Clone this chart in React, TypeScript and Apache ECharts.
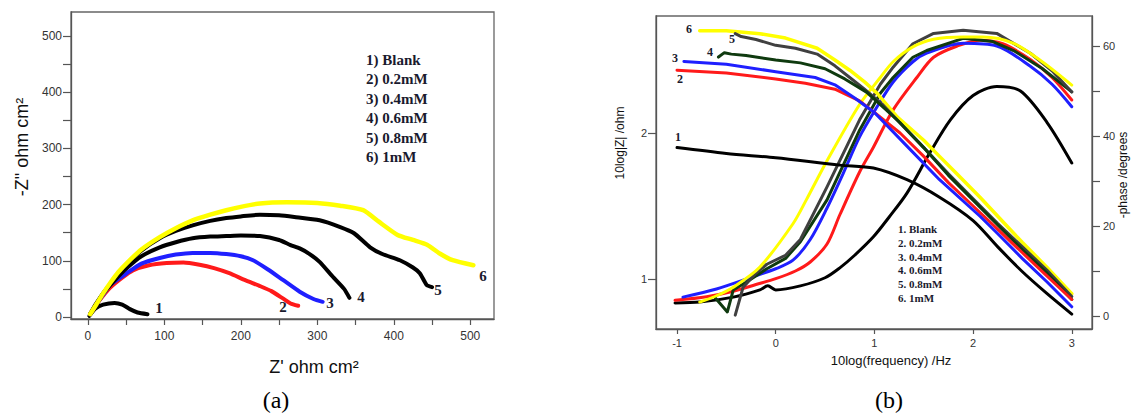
import React, { useEffect, useRef } from "react";
import * as echarts from "echarts";

// ---------- (a) Nyquist data: [Z', -Z''] ----------
const nyqBlank = [[2, 2], [10, 15], [20, 22], [35, 25], [45, 22], [55, 14], [65, 8], [78, 5]];
const nyq02 = [[3, 5], [10, 20], [20, 38], [29, 52], [45, 70], [59, 83], [80, 92], [103, 96], [125, 97], [146, 93], [165, 87], [185, 78], [205, 66], [225, 55], [240, 46], [255, 33], [265, 24], [275, 20]];
const nyq04 = [[3, 5], [10, 20], [20, 40], [30, 58], [51, 78], [70, 95], [94, 105], [115, 111], [137, 114], [160, 114], [181, 112], [200, 108], [216, 101], [235, 85], [255, 66], [277, 45], [295, 32], [307, 27]];
const nyq06 = [[3, 5], [10, 22], [20, 42], [35, 65], [51, 87], [70, 108], [94, 124], [115, 133], [137, 140], [160, 143], [181, 144], [200, 145], [225, 144], [250, 137], [265, 128], [277, 122], [290, 112], [303, 98], [320, 72], [335, 50], [342, 34]];
const nyq08 = [[3, 5], [10, 20], [20, 42], [29, 58], [40, 78], [51, 94], [70, 118], [94, 140], [115, 153], [137, 163], [160, 171], [181, 176], [200, 179], [225, 182], [250, 181], [270, 178], [303, 172], [330, 160], [348, 149], [369, 124], [385, 112], [408, 101], [425, 88], [434, 78], [443, 57], [450, 53]];
const nyq1 = [[3, 5], [10, 20], [20, 42], [29, 60], [40, 80], [51, 96], [70, 120], [94, 142], [115, 158], [137, 172], [160, 182], [181, 190], [200, 196], [225, 202], [260, 204], [300, 203], [330, 198], [360, 190], [380, 170], [405, 146], [425, 137], [444, 128], [460, 113], [477, 101], [504, 92]];

const nyqXTicks = [0, 50, 100, 150, 200, 250, 300, 350, 400, 450, 500];
const nyqXLabels = [0, 100, 200, 300, 400, 500];
const nyqYTicks = [0, 50, 100, 150, 200, 250, 300, 350, 400, 450, 500];
const nyqYLabels = [0, 100, 200, 300, 400, 500];
const nyqLegend = ["1) Blank", "2) 0.2mM", "3) 0.4mM", "4) 0.6mM", "5) 0.8mM", "6) 1mM"];

// ---------- (b) Bode data: [log f, log|Z|] and [log f, -phase] ----------
const zBlank = [[-1, 1.9], [-0.5, 1.86], [0, 1.83], [0.65, 1.78], [0.99, 1.76], [1.33, 1.68], [1.66, 1.56], [2.0, 1.4], [2.25, 1.22], [2.5, 1.05], [2.75, 0.9], [3, 0.76]];
const z02 = [[-1, 2.43], [-0.5, 2.41], [0, 2.37], [0.3, 2.34], [0.6, 2.3], [0.85, 2.22], [1.0, 2.14], [1.26, 2.0], [1.5, 1.84], [1.75, 1.66], [2.0, 1.5], [2.25, 1.34], [2.5, 1.18], [2.75, 1.02], [3.0, 0.86]];
const z04 = [[-0.93, 2.49], [-0.5, 2.47], [0, 2.42], [0.4, 2.38], [0.6, 2.33], [0.8, 2.24], [1.0, 2.14], [1.33, 1.91], [1.66, 1.68], [2.07, 1.43], [2.25, 1.31], [2.5, 1.14], [2.75, 0.98], [3.0, 0.81]];
const z06 = [[-0.58, 2.52], [-0.52, 2.55], [-0.45, 2.54], [-0.3, 2.53], [0, 2.5], [0.25, 2.48], [0.5, 2.44], [0.7, 2.37], [0.92, 2.28], [1.1, 2.17], [1.26, 2.07], [1.5, 1.9], [1.75, 1.71], [2.0, 1.54], [2.25, 1.37], [2.5, 1.2], [2.75, 1.04], [3.0, 0.86]];
const z08 = [[-0.41, 2.68], [-0.35, 2.66], [-0.2, 2.64], [0, 2.6], [0.2, 2.58], [0.42, 2.54], [0.6, 2.46], [0.75, 2.38], [0.9, 2.3], [1.09, 2.19], [1.3, 2.04], [1.5, 1.9], [1.75, 1.72], [2.0, 1.55], [2.25, 1.38], [2.5, 1.22], [2.75, 1.06], [3.0, 0.88]];
const z1 = [[-0.77, 2.7], [-0.5, 2.7], [-0.16, 2.68], [0.1, 2.65], [0.42, 2.58], [0.6, 2.5], [0.75, 2.43], [0.9, 2.35], [1.03, 2.27], [1.23, 2.11], [1.5, 1.95], [1.66, 1.84], [1.85, 1.71], [2.07, 1.56], [2.25, 1.43], [2.5, 1.25], [2.75, 1.08], [3.0, 0.9]];

const phBlank = [[-1.02, 2.9], [-0.77, 3.1], [-0.43, 4.2], [-0.16, 5.8], [-0.08, 6.7], [0, 5.8], [0.25, 6.7], [0.5, 8.5], [0.65, 10.7], [0.8, 13.5], [0.99, 17.6], [1.15, 22], [1.33, 27.3], [1.56, 36.2], [1.77, 43.6], [2.0, 49], [2.24, 51], [2.48, 50], [2.75, 43], [3.0, 34]];
const ph02 = [[-1.02, 3.5], [-0.7, 4.3], [-0.43, 5.5], [-0.2, 7], [0, 8.3], [0.2, 10], [0.35, 12], [0.52, 16], [0.65, 22.5], [0.85, 32], [0.99, 37.5], [1.19, 45.8], [1.43, 53], [1.6, 57.5], [1.84, 60], [2.07, 61.3], [2.3, 60.5], [2.58, 57], [2.8, 53], [3.0, 48]];
const ph04 = [[-0.94, 4.2], [-0.6, 6], [-0.26, 8.5], [0, 10.5], [0.175, 12.4], [0.35, 17], [0.52, 24], [0.68, 31.5], [0.85, 39.8], [1.0, 45.5], [1.19, 52], [1.39, 56.5], [1.53, 58.4], [1.9, 60.6], [2.24, 60], [2.58, 55.5], [2.8, 51.5], [3.0, 46.5]];
const ph06 = [[-0.62, 4.2], [-0.49, 0.9], [-0.43, 5.8], [-0.3, 7.5], [-0.09, 10.5], [0.1, 12.8], [0.25, 16.5], [0.52, 25.8], [0.85, 41.3], [1.06, 49.5], [1.19, 53], [1.39, 57.5], [1.53, 59], [1.9, 61.7], [2.2, 61], [2.41, 59], [2.7, 55], [3.0, 49.8]];
const ph08 = [[-0.41, 0.2], [-0.33, 6.4], [-0.2, 9.5], [-0.09, 11.5], [0.1, 13.5], [0.25, 17], [0.52, 28.7], [0.85, 43.6], [1.06, 51.5], [1.19, 55.3], [1.39, 60.5], [1.6, 62.8], [1.9, 63.5], [2.24, 62.8], [2.58, 58.4], [2.8, 54.5], [3.0, 49.8]];
const ph1 = [[-0.77, 3.1], [-0.6, 4.5], [-0.43, 6.4], [-0.16, 10.9], [0.175, 20.5], [0.31, 25.8], [0.52, 34.5], [0.85, 47], [1.06, 53], [1.19, 56.5], [1.39, 59.8], [1.6, 61.5], [1.9, 62], [2.1, 62], [2.41, 60.6], [2.7, 56.5], [3.0, 51.3]];

const bodeXTicks = [-1, 0, 1, 2, 3];
const bodeZTicks = [1, 2];
const bodePhTicks = [0, 10, 20, 30, 40, 50, 60];
const bodePhLabels = [0, 20, 40, 60];
const bodeLegend = ["1. Blank", "2. 0.2mM", "3. 0.4mM", "4. 0.6mM", "5. 0.8mM", "6. 1mM"];

const C = {
  black: "#000000",
  red: "#ff1a1a",
  blue: "#1f1fff",
  green: "#0f3a0f",
  gray: "#404040",
  yellow: "#ffff00",
};

const SANS = "'Liberation Sans', Arial, sans-serif";
const SERIF = "'Liberation Serif', 'Times New Roman', serif";

export default function App() {
  const ref = useRef<HTMLDivElement>(null);
  useEffect(() => {
    if (!ref.current) return;
    const chart = echarts.init(ref.current, undefined, { renderer: "svg" });
    const axLine = { show: true, onZero: false, lineStyle: { color: "#555", width: 1.3 } };
    const tickStyle = { color: "#555", width: 1.2 };
    const lbl = { fontFamily: SANS, fontSize: 12, color: "#333" };

    const line = (data: number[][], color: string, x: number, y: number, w: number, z = 2, smooth: any = 0.2) => ({
      type: "line",
      xAxisIndex: x,
      yAxisIndex: y,
      data,
      symbol: "none",
      smooth,
      z,
      lineStyle: { color, width: w, cap: "round", join: "round" },
    });

    const texts: any[] = [];
    const addText = (t: string, x: number, y: number, font: number, opts: any = {}) =>
      texts.push({
        type: "text",
        x,
        y,
        rotation: opts.rotation || 0,
        style: {
          text: t,
          fontFamily: opts.family || SERIF,
          fontSize: font,
          fontWeight: opts.weight || "bold",
          fill: opts.fill || "#1a1a2e",
          align: opts.align || "left",
          verticalAlign: "middle",
        },
        z: 20,
      });

    // (a) legend and labels
    nyqLegend.forEach((t, i) => addText(t, 366, 60 + i * 19.4, 15));
    addText("1", 159, 308, 15, { align: "center" });
    addText("2", 283, 307, 15, { align: "center" });
    addText("3", 330, 303, 15, { align: "center" });
    addText("4", 361, 297, 15, { align: "center" });
    addText("5", 438, 290, 15, { align: "center" });
    addText("6", 483, 276, 15, { align: "center" });
    addText("Z' ohm cm²", 314, 367, 18, { family: SANS, weight: "normal", fill: "#111", align: "center" });
    addText('-Z" ohm cm²', 22, 147, 18, { family: SANS, weight: "normal", fill: "#111", align: "center", rotation: Math.PI / 2 });
    addText("(a)", 276, 400, 24, { family: SERIF, weight: "normal", fill: "#000", align: "center" });

    // (b) legend and labels
    bodeLegend.forEach((t, i) => addText(t, 898, 229 + i * 13.8, 11));
    addText("6", 689, 29, 12, { align: "center" });
    addText("5", 732, 39, 12, { align: "center" });
    addText("4", 710, 52, 12, { align: "center" });
    addText("3", 675, 58, 12, { align: "center" });
    addText("2", 680, 79, 12, { align: "center" });
    addText("1", 678, 137, 12, { align: "center" });
    addText("10log(frequency) /Hz", 891, 360, 13, { family: SANS, weight: "normal", fill: "#111", align: "center" });
    addText("10log|Z| /ohm", 620, 143, 12, { family: SANS, weight: "normal", fill: "#111", align: "center", rotation: Math.PI / 2 });
    addText("-phase /degrees", 1123, 175, 12, { family: SANS, weight: "normal", fill: "#111", align: "center", rotation: Math.PI / 2 });
    addText("(b)", 889, 400, 24, { family: SERIF, weight: "normal", fill: "#000", align: "center" });

    chart.setOption({
      animation: false,
      backgroundColor: "#ffffff",
      grid: [
        { left: 71, top: 12, width: 423, height: 307, show: true, borderColor: "#666", borderWidth: 1.3, backgroundColor: "transparent" },
        { left: 656, top: 16, width: 436, height: 313, show: true, borderColor: "#666", borderWidth: 1.3, backgroundColor: "transparent" },
      ],
      xAxis: [
        {
          type: "value", gridIndex: 0, min: -22, max: 531,
          axisLine: axLine, splitLine: { show: false },
          axisTick: { show: true, length: 6, customValues: nyqXTicks, lineStyle: tickStyle },
          axisLabel: { ...lbl, customValues: nyqXLabels, margin: 11 },
        },
        {
          type: "value", gridIndex: 1, min: -1.213, max: 3.205,
          axisLine: axLine, splitLine: { show: false },
          axisTick: { show: true, length: 5, customValues: bodeXTicks, lineStyle: tickStyle },
          axisLabel: { ...lbl, fontSize: 11, customValues: bodeXTicks, margin: 8 },
        },
      ],
      yAxis: [
        {
          type: "value", gridIndex: 0, min: -3.6, max: 542.7,
          axisLine: axLine, splitLine: { show: false },
          axisTick: { show: true, length: 8, customValues: nyqYTicks, lineStyle: tickStyle },
          axisLabel: { ...lbl, customValues: nyqYLabels, margin: 9, verticalAlign: "middle", padding: [0, 0, 7, 0] },
        },
        {
          type: "value", gridIndex: 1, min: 0.658, max: 2.801, position: "left",
          axisLine: axLine, splitLine: { show: false },
          axisTick: { show: true, length: 8, customValues: bodeZTicks, lineStyle: tickStyle },
          axisLabel: { ...lbl, fontSize: 11, customValues: bodeZTicks, margin: 9, verticalAlign: "middle", padding: [0, 0, 7, 0] },
        },
        {
          type: "value", gridIndex: 1, min: -2.89, max: 66.67, position: "right",
          axisLine: axLine, splitLine: { show: false },
          axisTick: { show: true, length: 8, customValues: bodePhTicks, lineStyle: tickStyle },
          axisLabel: { ...lbl, fontSize: 11, customValues: bodePhLabels, margin: 11, verticalAlign: "middle", padding: [0, 0, 4, 0] },
        },
      ],
      series: [
        line(nyqBlank, C.black, 0, 0, 4),
        line(nyq02, C.red, 0, 0, 4),
        line(nyq04, C.blue, 0, 0, 4),
        line(nyq06, C.black, 0, 0, 4),
        line(nyq08, C.black, 0, 0, 4),
        line(nyq1, C.yellow, 0, 0, 4.5, 3),

        line(phBlank, C.black, 1, 2, 3, 2, 0.3),
        line(ph02, C.red, 1, 2, 3, 2, 0.3),
        line(ph04, C.blue, 1, 2, 3, 2, 0.3),
        line(ph06, C.green, 1, 2, 3, 2, false),
        line(ph08, C.gray, 1, 2, 3, 2, false),
        line(ph1, C.yellow, 1, 2, 3, 2, 0.3),

        line(zBlank, C.black, 1, 1, 3, 2, 0.3),
        line(z1, C.yellow, 1, 1, 3.5, 2, false),
        line(z08, C.gray, 1, 1, 3, 2, false),
        line(z06, C.green, 1, 1, 3, 2, false),
        line(z02, C.red, 1, 1, 3, 2, false),
        line(z04, C.blue, 1, 1, 3, 2, false),
      ],
      graphic: texts,
    });
    return () => chart.dispose();
  }, []);
  return <div ref={ref} style={{ position: "absolute", left: 0, top: 0, width: 1131, height: 415, background: "#fff" }} />;
}
